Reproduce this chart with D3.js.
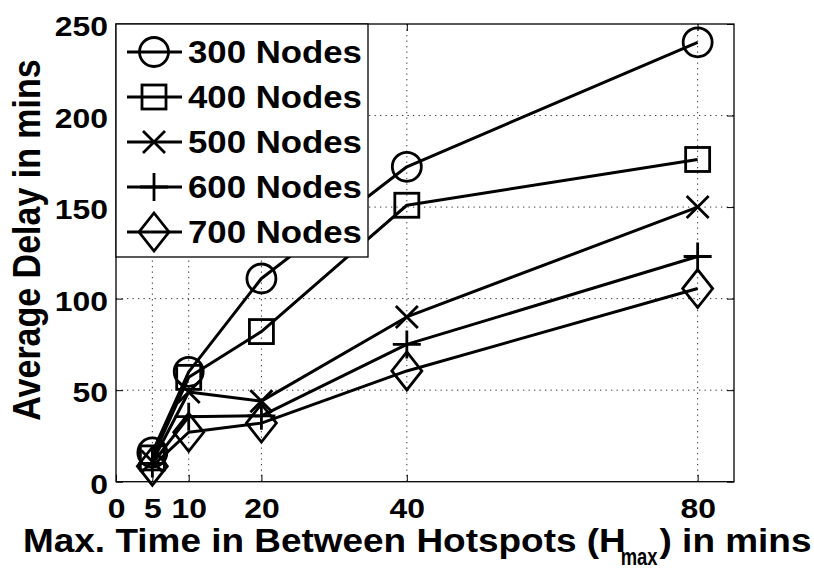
<!DOCTYPE html>
<html>
<head>
<meta charset="utf-8">
<script src="https://cdn.jsdelivr.net/npm/d3@7"></script>
<style>
  html, body { margin: 0; padding: 0; background: #fff; }
  svg { display: block; }
  text { font-family: "Liberation Sans", Arial, Helvetica, sans-serif; font-weight: bold; fill: #000; }
</style>
</head>
<body>
<svg id="chart" width="814" height="571"></svg>
<script>
// ---- data ----
const xValues = [5, 10, 20, 40, 80];
const seriesNames = ["300 Nodes", "400 Nodes", "500 Nodes", "600 Nodes", "700 Nodes"];
const seriesMarkers = ["circle", "square", "x", "plus", "diamond"];
const nodes300 = [16, 60, 111, 172, 240];
const nodes400 = [13, 57, 82, 151, 176];
const nodes500 = [11, 49, 44, 90, 150];
const nodes600 = [10, 35.5, 36, 75, 123];
const nodes700 = [8.5, 27, 32, 60.5, 105.5];
const xTicks = [0, 5, 10, 20, 40, 80];
const yTicks = [0, 50, 100, 150, 200, 250];
const xDomain = [0, 85];
const yDomain = [0, 250];
const xLabelMain = "Max. Time in Between Hotspots (H";
const xLabelSub = "max";
const xLabelEnd = ") in mins";
const yLabel = "Average Delay in mins";

const seriesValues = [nodes300, nodes400, nodes500, nodes600, nodes700];

// ---- layout ----
const L = 116, R = 734, T = 24, B = 481.7;
const SX = 1.14; // horizontal text stretch of the original
const SXL = 1.12;
const svg = d3.select("#chart");

const x = d3.scaleLinear().domain(xDomain).range([L, R]);
const y = d3.scaleLinear().domain(yDomain).range([B, T]);

// grid
const grid = svg.append("g").attr("stroke", "#333").attr("stroke-width", 1).attr("stroke-dasharray", "1.3,4.2");
grid.selectAll("line.gx").data(xTicks.filter(d => d > 0)).join("line")
  .attr("x1", d => x(d)).attr("x2", d => x(d)).attr("y1", T).attr("y2", B);
grid.selectAll("line.gy").data(yTicks.filter(d => d > 0 && d < 250)).join("line")
  .attr("class", "gy")
  .attr("x1", L).attr("x2", R).attr("y1", d => y(d)).attr("y2", d => y(d));

// axes
const tickLen = 7;
const gx = svg.append("g").attr("transform", `translate(0,${B})`)
  .call(d3.axisBottom(x).tickValues(xTicks).tickSize(-tickLen).tickFormat(d3.format("d")));
gx.selectAll("text").attr("y", 36.5).attr("dy", 0).style("font-size", "28px")
  .attr("transform", `scale(${SX},1)`);
const gy = svg.append("g").attr("transform", `translate(${L},0)`)
  .call(d3.axisLeft(y).tickValues(yTicks).tickSize(-tickLen).tickFormat(d3.format("d")));
gy.selectAll("text").attr("x", -7).attr("dy", "0.42em").style("font-size", "28px")
  .attr("transform", `scale(${SX},1)`);
svg.append("g").attr("transform", `translate(0,${T})`)
  .call(d3.axisTop(x).tickValues(xTicks).tickSize(-tickLen).tickFormat(""));
svg.append("g").attr("transform", `translate(${R},0)`)
  .call(d3.axisRight(y).tickValues(yTicks).tickSize(-tickLen).tickFormat(""));
svg.selectAll(".domain").remove();
svg.selectAll(".tick line").attr("stroke", "#000").attr("stroke-width", 1);

// frame
svg.append("rect").attr("x", L).attr("y", T).attr("width", R - L).attr("height", B - T)
  .attr("fill", "none").attr("stroke", "#000").attr("stroke-width", 1.3);

// marker drawing
function drawMarker(g, type) {
  const sw = 2.8;
  const common = s => s.attr("fill", "none").attr("stroke", "#000").attr("stroke-width", sw);
  if (type === "circle") common(g.append("circle").attr("r", 14.5));
  else if (type === "square") common(g.append("rect").attr("x", -12).attr("y", -12).attr("width", 24).attr("height", 24));
  else if (type === "x") common(g.append("path").attr("d", "M-11,-11L11,11M-11,11L11,-11"));
  else if (type === "plus") common(g.append("path").attr("d", "M-14,0L14,0M0,-14L0,14"));
  else if (type === "diamond") common(g.append("path").attr("d", "M0,-19L15,0L0,19L-15,0Z"));
}

// series
const line = d3.line().x(d => x(d[0])).y(d => y(d[1]));
seriesValues.forEach((vals, i) => {
  const pts = xValues.map((xv, j) => [xv, vals[j]]);
  const g = svg.append("g");
  g.append("path").attr("d", line(pts)).attr("fill", "none").attr("stroke", "#000")
    .attr("stroke-width", 3).attr("stroke-linejoin", "round");
  pts.forEach(p => {
    const m = g.append("g").attr("transform", `translate(${x(p[0])},${y(p[1])})`);
    drawMarker(m, seriesMarkers[i]);
  });
});

// legend
const leg = svg.append("g");
leg.append("rect").attr("x", L).attr("y", T).attr("width", 368 - L).attr("height", 257 - T)
  .attr("fill", "#fff").attr("stroke", "#000").attr("stroke-width", 1.3);
seriesNames.forEach((name, i) => {
  const cy = 52 + i * 45;
  leg.append("line").attr("x1", 127).attr("x2", 182).attr("y1", cy).attr("y2", cy)
    .attr("stroke", "#000").attr("stroke-width", 3);
  const m = leg.append("g").attr("transform", `translate(154,${cy})`);
  drawMarker(m, seriesMarkers[i]);
  leg.append("text").attr("transform", `translate(188,${cy + 11}) scale(${SX},1)`)
    .style("font-size", "30.5px").text(name);
});

// x label
const xl1 = svg.append("text").attr("transform", `translate(23,552) scale(${SXL},1)`)
  .style("font-size", "33px").text(xLabelMain);
const w1 = xl1.node().getComputedTextLength() * SXL;
const subX = 23 + w1 - 5;
const xl2 = svg.append("text").attr("transform", `translate(${subX},565) scale(0.8,1)`)
  .style("font-size", "23px").text(xLabelSub);
const w2 = xl2.node().getComputedTextLength() * 0.8;
svg.append("text").attr("transform", `translate(${subX + w2 + 2},552) scale(${SXL},1)`)
  .style("font-size", "33px").text(xLabelEnd);

// y label
svg.append("text").attr("transform", `translate(40,240) scale(${SX},1) rotate(-90)`)
  .attr("text-anchor", "middle").style("font-size", "34px").text(yLabel);
</script>
</body>
</html>
